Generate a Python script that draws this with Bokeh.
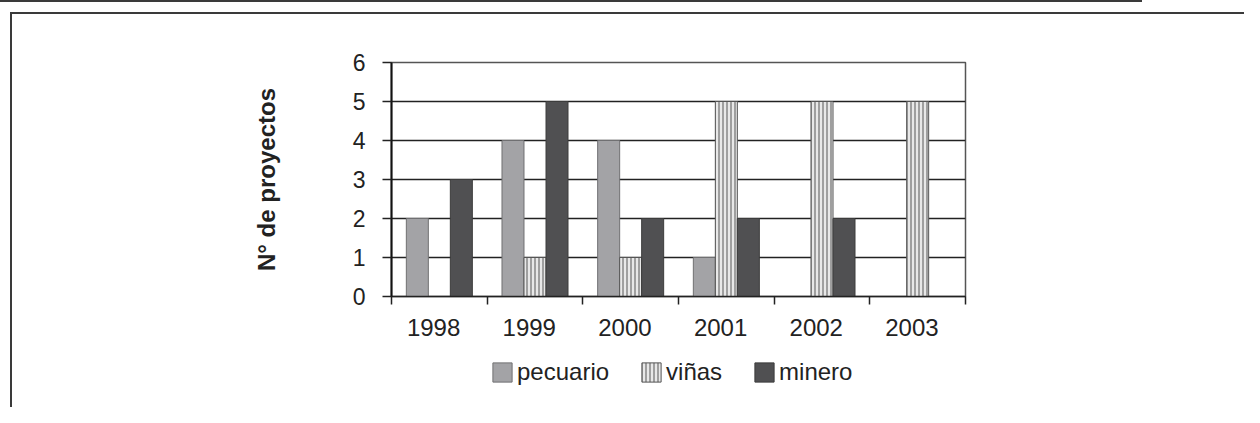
from bokeh.plotting import figure
from bokeh.models import (Range1d, FixedTicker, ColumnDataSource, Legend, LegendItem,
                          LinearAxis, Grid, Div)
from bokeh.layouts import column, row
from bokeh.transform import dodge
from bokeh.embed import file_html
from bokeh.resources import INLINE

# ---- data ----
years = ["1998", "1999", "2000", "2001", "2002", "2003"]
pecuario = [2, 4, 4, 1, 0, 0]
vinas = [0, 1, 1, 5, 5, 5]
minero = [3, 5, 2, 2, 2, 0]
series_names = ["pecuario", "viñas", "minero"]
y_ticks = [0, 1, 2, 3, 4, 5, 6]
y_label = "N° de proyectos"

centers = [i + 0.5 for i in range(len(years))]
bounds = [i for i in range(len(years) + 1)]
label_pos = [c - 0.06 for c in centers]

src = ColumnDataSource(dict(x=centers, pecuario=pecuario, vinas=vinas, minero=minero))

FONT = "Liberation Sans"
TXT = "#222222"
LINE = "#3a3a3a"

STYLES = [
    dict(fill_color="#a3a3a6", line_color="#707072", line_width=1),
    dict(fill_color="#e8e8e8", line_color="#555555", line_width=1,
         hatch_pattern="vertical_line", hatch_color="#555555", hatch_scale=4, hatch_weight=1),
    dict(fill_color="#505052", line_color="#3c3c3c", line_width=1),
]

p = figure(width=1232, height=332, output_backend="svg", toolbar_location=None,
           x_range=Range1d(0, len(years)), y_range=Range1d(0, 6),
           x_axis_type=None, y_axis_type=None,
           min_border_left=379, min_border_right=279, min_border_top=48, min_border_bottom=50)
p.background_fill_color = "white"
p.border_fill_color = "white"
p.outline_line_color = "#555555"
p.outline_line_width = 1.5

# y axis
yax = LinearAxis(ticker=FixedTicker(ticks=y_ticks, minor_ticks=[]))
yax.axis_label = y_label
yax.axis_label_text_font = FONT
yax.axis_label_text_font_style = "bold"
yax.axis_label_text_font_size = "24px"
yax.axis_label_text_color = TXT
yax.axis_label_standoff = 70
yax.major_label_text_font = FONT
yax.major_label_text_font_size = "23px"
yax.major_label_text_color = TXT
yax.major_label_standoff = 17
yax.major_tick_out = 9
yax.major_tick_in = 0
yax.major_tick_line_color = "#222222"
yax.major_tick_line_width = 1.5
yax.axis_line_color = "#111111"
yax.axis_line_width = 2
p.add_layout(yax, "left")

# x axis: labels near category centres, tick marks at boundaries
xax = LinearAxis(ticker=FixedTicker(ticks=label_pos, minor_ticks=bounds))
xax.major_label_overrides = {c: y for c, y in zip(label_pos, years)}
xax.major_label_text_font = FONT
xax.major_label_text_font_size = "24px"
xax.major_label_text_color = TXT
xax.major_label_standoff = 14
xax.major_tick_out = 0
xax.major_tick_in = 0
xax.minor_tick_out = 8
xax.minor_tick_in = 0
xax.minor_tick_line_color = "#222222"
xax.minor_tick_line_width = 1.5
xax.axis_line_color = "#222222"
xax.axis_line_width = 1.5
p.add_layout(xax, "below")

grid = Grid(dimension=1, ticker=FixedTicker(ticks=y_ticks),
            grid_line_color="#222222", grid_line_width=1.5)
p.add_layout(grid)

W = 0.23
p.vbar(x=dodge("x", -W, range=p.x_range), top="pecuario", width=W, source=src, **STYLES[0])
p.vbar(x=dodge("x", 0, range=p.x_range), top="vinas", width=W, source=src, **STYLES[1])
p.vbar(x=dodge("x", W, range=p.x_range), top="minero", width=W, source=src, **STYLES[2])

# legend strip (separate figure so the legend is not clipped)
lf = figure(width=1232, height=61, output_backend="svg", toolbar_location=None,
            x_range=Range1d(0, 1), y_range=Range1d(0, 1),
            x_axis_type=None, y_axis_type=None,
            min_border_left=0, min_border_right=0, min_border_top=0, min_border_bottom=0)
lf.outline_line_color = None
lf.background_fill_color = "white"
lf.border_fill_color = "white"
# legend keys: one off-screen bar each, styled like the series
keys = [lf.vbar(x=[-10], top=[0], width=0.1, **st) for st in STYLES]

legend = Legend(items=[LegendItem(label=n, renderers=[k]) for n, k in zip(series_names, keys)],
                orientation="horizontal", location=(99, 21))
legend.glyph_width = 24
legend.glyph_height = 24
legend.label_standoff = 3
legend.spacing = 30
legend.padding = 0
legend.margin = 0
legend.border_line_alpha = 0
legend.background_fill_alpha = 0
legend.label_text_font = FONT
legend.label_text_font_size = "24px"
legend.label_text_color = TXT
lf.add_layout(legend, "center")

# page rules around the chart
top_rule = Div(text="", width=1142, height=2, margin=(0, 0, 0, 0),
               styles={"background-color": LINE})
box_top = Div(text="", width=1234, height=2, margin=(10, 0, 0, 10),
              styles={"background-color": LINE})
box_left = Div(text="", width=2, height=393, margin=(0, 0, 0, 10),
               styles={"background-color": LINE})

layout = column(top_rule, box_top, row(box_left, column(p, lf, spacing=0), spacing=0), spacing=0)

open("out.html", "w").write(file_html(layout, INLINE))
